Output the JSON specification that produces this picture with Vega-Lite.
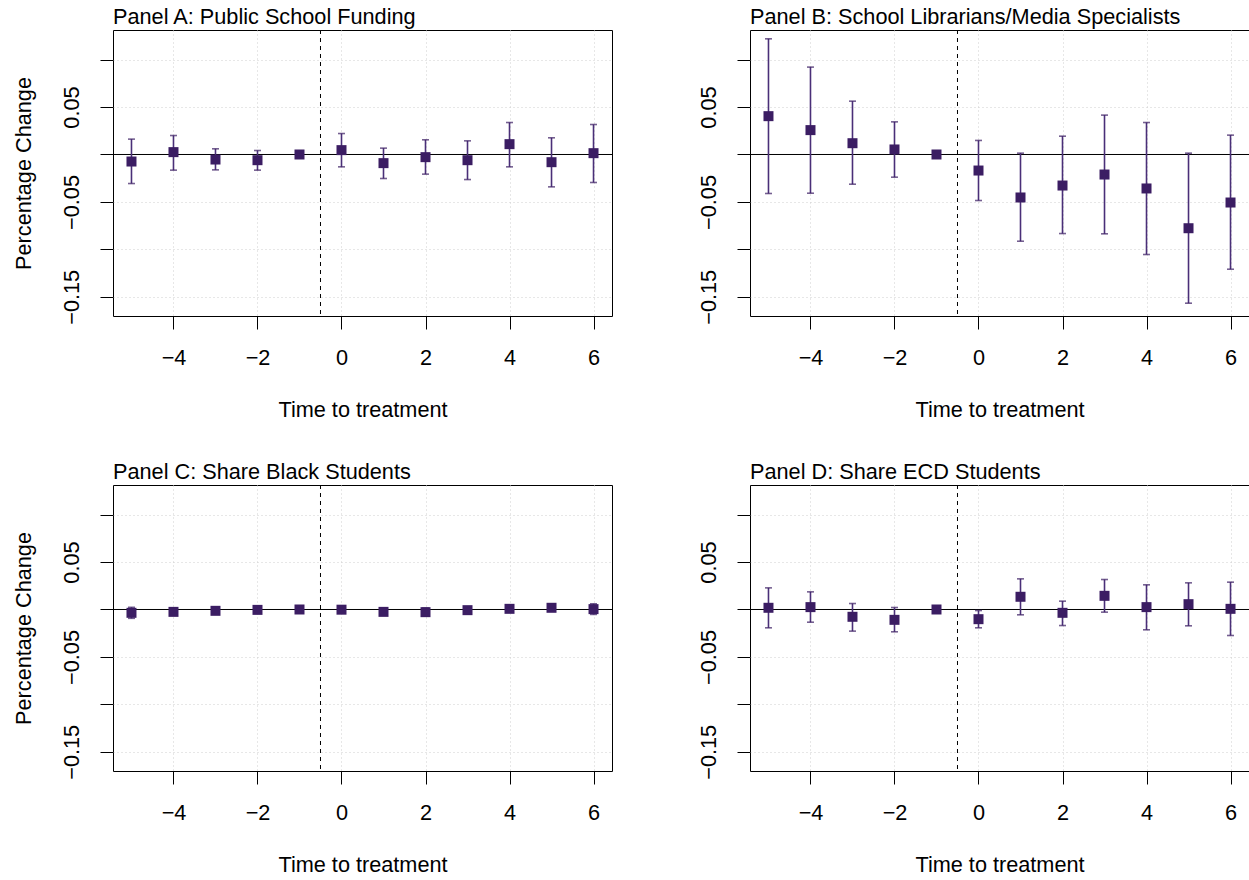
{
  "$schema": "https://vega.github.io/schema/vega-lite/v6.json",
  "padding": {"left": 13, "top": 6, "right": 0, "bottom": 0},
  "background": "white",
  "datasets": {
    "coef": [
      {"panel": "A", "t": -5, "est": -0.0074, "lo": -0.0306, "hi": 0.0162},
      {"panel": "A", "t": -4, "est": 0.0025, "lo": -0.0165, "hi": 0.0200},
      {"panel": "A", "t": -3, "est": -0.0053, "lo": -0.0162, "hi": 0.0060},
      {"panel": "A", "t": -2, "est": -0.0060, "lo": -0.0165, "hi": 0.0042},
      {"panel": "A", "t": -1, "est": 0.0, "lo": 0.0, "hi": 0.0},
      {"panel": "A", "t": 0, "est": 0.0046, "lo": -0.0130, "hi": 0.0221},
      {"panel": "A", "t": 1, "est": -0.0091, "lo": -0.0253, "hi": 0.0067},
      {"panel": "A", "t": 2, "est": -0.0028, "lo": -0.0207, "hi": 0.0155},
      {"panel": "A", "t": 3, "est": -0.0060, "lo": -0.0264, "hi": 0.0144},
      {"panel": "A", "t": 4, "est": 0.0109, "lo": -0.0130, "hi": 0.0337},
      {"panel": "A", "t": 5, "est": -0.0081, "lo": -0.0341, "hi": 0.0176},
      {"panel": "A", "t": 6, "est": 0.0014, "lo": -0.0295, "hi": 0.0316},
      {"panel": "B", "t": -5, "est": 0.0404, "lo": -0.0411, "hi": 0.1219},
      {"panel": "B", "t": -4, "est": 0.0257, "lo": -0.0408, "hi": 0.0921},
      {"panel": "B", "t": -3, "est": 0.0119, "lo": -0.0313, "hi": 0.0562},
      {"panel": "B", "t": -2, "est": 0.0053, "lo": -0.0239, "hi": 0.0344},
      {"panel": "B", "t": -1, "est": 0.0, "lo": 0.0, "hi": 0.0},
      {"panel": "B", "t": 0, "est": -0.0169, "lo": -0.0485, "hi": 0.0148},
      {"panel": "B", "t": 1, "est": -0.0453, "lo": -0.0914, "hi": 0.0014},
      {"panel": "B", "t": 2, "est": -0.0327, "lo": -0.0833, "hi": 0.0193},
      {"panel": "B", "t": 3, "est": -0.0211, "lo": -0.0836, "hi": 0.0415},
      {"panel": "B", "t": 4, "est": -0.0358, "lo": -0.1054, "hi": 0.0337},
      {"panel": "B", "t": 5, "est": -0.0777, "lo": -0.1567, "hi": 0.0014},
      {"panel": "B", "t": 6, "est": -0.0506, "lo": -0.1209, "hi": 0.0204},
      {"panel": "C", "t": -5, "est": -0.0035, "lo": -0.0093, "hi": 0.0023},
      {"panel": "C", "t": -4, "est": -0.0025, "lo": -0.0050, "hi": 0.0000},
      {"panel": "C", "t": -3, "est": -0.0014, "lo": -0.0040, "hi": 0.0012},
      {"panel": "C", "t": -2, "est": -0.0004, "lo": -0.0030, "hi": 0.0022},
      {"panel": "C", "t": -1, "est": 0.0, "lo": 0.0, "hi": 0.0},
      {"panel": "C", "t": 0, "est": -0.0002, "lo": -0.0030, "hi": 0.0026},
      {"panel": "C", "t": 1, "est": -0.0025, "lo": -0.0050, "hi": 0.0000},
      {"panel": "C", "t": 2, "est": -0.0028, "lo": -0.0070, "hi": 0.0014},
      {"panel": "C", "t": 3, "est": -0.0007, "lo": -0.0035, "hi": 0.0021},
      {"panel": "C", "t": 4, "est": 0.0007, "lo": -0.0025, "hi": 0.0039},
      {"panel": "C", "t": 5, "est": 0.0018, "lo": -0.0010, "hi": 0.0046},
      {"panel": "C", "t": 6, "est": 0.0004, "lo": -0.0052, "hi": 0.0060},
      {"panel": "D", "t": -5, "est": 0.0018, "lo": -0.0193, "hi": 0.0228},
      {"panel": "D", "t": -4, "est": 0.0025, "lo": -0.0134, "hi": 0.0186},
      {"panel": "D", "t": -3, "est": -0.0077, "lo": -0.0228, "hi": 0.0063},
      {"panel": "D", "t": -2, "est": -0.0109, "lo": -0.0235, "hi": 0.0021},
      {"panel": "D", "t": -1, "est": 0.0, "lo": 0.0, "hi": 0.0},
      {"panel": "D", "t": 0, "est": -0.0102, "lo": -0.0193, "hi": -0.0011},
      {"panel": "D", "t": 1, "est": 0.0134, "lo": -0.0056, "hi": 0.0323},
      {"panel": "D", "t": 2, "est": -0.0035, "lo": -0.0169, "hi": 0.0088},
      {"panel": "D", "t": 3, "est": 0.0144, "lo": -0.0028, "hi": 0.0316},
      {"panel": "D", "t": 4, "est": 0.0025, "lo": -0.0214, "hi": 0.0260},
      {"panel": "D", "t": 5, "est": 0.0056, "lo": -0.0172, "hi": 0.0281},
      {"panel": "D", "t": 6, "est": 0.0007, "lo": -0.0274, "hi": 0.0288}
    ],
    "blank": [{"zero": 0, "cut": -0.5}]
  },
  "columns": 2,
  "spacing": {"row": 39, "column": 85},
  "concat": [
    {
      "width": 499, "height": 286,
      "title": {"text": "Panel A: Public School Funding"},
      "layer": [
        {"data": {"name": "blank"}, "mark": {"type": "rule", "color": "black", "strokeWidth": 1},
         "encoding": {"y": {"field": "zero", "type": "quantitative", "scale": {"domain": [-0.1702, 0.1312], "nice": false, "zero": false}, "title": "Percentage Change", "axis": {"values": [-0.15, -0.1, -0.05, 0, 0.05, 0.1]}}}},
        {"data": {"name": "blank"}, "mark": {"type": "rule", "color": "black", "strokeWidth": 1, "strokeDash": [4, 4]},
         "encoding": {"x": {"field": "cut", "type": "quantitative", "scale": {"domain": [-5.44, 6.44], "nice": false, "zero": false}, "title": "Time to treatment", "axis": {"values": [-4, -2, 0, 2, 4, 6]}}}},
        {"data": {"name": "coef"}, "transform": [{"filter": "datum.panel == 'A'"}],
         "mark": {"type": "rule", "color": "#4a2f78", "strokeWidth": 1.6},
         "encoding": {"x": {"field": "t", "type": "quantitative", "scale": {"domain": [-5.44, 6.44], "nice": false, "zero": false}, "title": "Time to treatment", "axis": {"values": [-4, -2, 0, 2, 4, 6]}},
           "y": {"field": "lo", "type": "quantitative", "scale": {"domain": [-0.1702, 0.1312], "nice": false, "zero": false}, "title": "Percentage Change", "axis": {"values": [-0.15, -0.1, -0.05, 0, 0.05, 0.1]}},
           "y2": {"field": "hi"}}},
        {"data": {"name": "coef"}, "transform": [{"filter": "datum.panel == 'A'"}],
         "mark": {"type": "tick", "orient": "horizontal", "color": "#3b1d63", "size": 7, "thickness": 1.6},
         "encoding": {"x": {"field": "t", "type": "quantitative", "scale": {"domain": [-5.44, 6.44], "nice": false, "zero": false}, "title": "Time to treatment", "axis": {"values": [-4, -2, 0, 2, 4, 6]}},
           "y": {"field": "lo", "type": "quantitative", "scale": {"domain": [-0.1702, 0.1312], "nice": false, "zero": false}, "title": "Percentage Change", "axis": {"values": [-0.15, -0.1, -0.05, 0, 0.05, 0.1]}}}},
        {"data": {"name": "coef"}, "transform": [{"filter": "datum.panel == 'A'"}],
         "mark": {"type": "tick", "orient": "horizontal", "color": "#3b1d63", "size": 7, "thickness": 1.6},
         "encoding": {"x": {"field": "t", "type": "quantitative", "scale": {"domain": [-5.44, 6.44], "nice": false, "zero": false}, "title": "Time to treatment", "axis": {"values": [-4, -2, 0, 2, 4, 6]}},
           "y": {"field": "hi", "type": "quantitative", "scale": {"domain": [-0.1702, 0.1312], "nice": false, "zero": false}, "title": "Percentage Change", "axis": {"values": [-0.15, -0.1, -0.05, 0, 0.05, 0.1]}}}},
        {"data": {"name": "coef"}, "transform": [{"filter": "datum.panel == 'A'"}],
         "mark": {"type": "point", "shape": "square", "filled": true, "size": 100, "color": "#3b1d63", "opacity": 1},
         "encoding": {"x": {"field": "t", "type": "quantitative", "scale": {"domain": [-5.44, 6.44], "nice": false, "zero": false}, "title": "Time to treatment", "axis": {"values": [-4, -2, 0, 2, 4, 6]}},
           "y": {"field": "est", "type": "quantitative", "scale": {"domain": [-0.1702, 0.1312], "nice": false, "zero": false}, "title": "Percentage Change", "axis": {"values": [-0.15, -0.1, -0.05, 0, 0.05, 0.1]}}}}
      ]
    },
    {
      "width": 499, "height": 286,
      "title": {"text": "Panel B: School Librarians/Media Specialists"},
      "layer": [
        {"data": {"name": "blank"}, "mark": {"type": "rule", "color": "black", "strokeWidth": 1},
         "encoding": {"y": {"field": "zero", "type": "quantitative", "scale": {"domain": [-0.1702, 0.1312], "nice": false, "zero": false}, "title": null, "axis": {"values": [-0.15, -0.1, -0.05, 0, 0.05, 0.1]}}}},
        {"data": {"name": "blank"}, "mark": {"type": "rule", "color": "black", "strokeWidth": 1, "strokeDash": [4, 4]},
         "encoding": {"x": {"field": "cut", "type": "quantitative", "scale": {"domain": [-5.44, 6.44], "nice": false, "zero": false}, "title": "Time to treatment", "axis": {"values": [-4, -2, 0, 2, 4, 6]}}}},
        {"data": {"name": "coef"}, "transform": [{"filter": "datum.panel == 'B'"}],
         "mark": {"type": "rule", "color": "#4a2f78", "strokeWidth": 1.6},
         "encoding": {"x": {"field": "t", "type": "quantitative", "scale": {"domain": [-5.44, 6.44], "nice": false, "zero": false}, "title": "Time to treatment", "axis": {"values": [-4, -2, 0, 2, 4, 6]}},
           "y": {"field": "lo", "type": "quantitative", "scale": {"domain": [-0.1702, 0.1312], "nice": false, "zero": false}, "title": null, "axis": {"values": [-0.15, -0.1, -0.05, 0, 0.05, 0.1]}},
           "y2": {"field": "hi"}}},
        {"data": {"name": "coef"}, "transform": [{"filter": "datum.panel == 'B'"}],
         "mark": {"type": "tick", "orient": "horizontal", "color": "#3b1d63", "size": 7, "thickness": 1.6},
         "encoding": {"x": {"field": "t", "type": "quantitative", "scale": {"domain": [-5.44, 6.44], "nice": false, "zero": false}, "title": "Time to treatment", "axis": {"values": [-4, -2, 0, 2, 4, 6]}},
           "y": {"field": "lo", "type": "quantitative", "scale": {"domain": [-0.1702, 0.1312], "nice": false, "zero": false}, "title": null, "axis": {"values": [-0.15, -0.1, -0.05, 0, 0.05, 0.1]}}}},
        {"data": {"name": "coef"}, "transform": [{"filter": "datum.panel == 'B'"}],
         "mark": {"type": "tick", "orient": "horizontal", "color": "#3b1d63", "size": 7, "thickness": 1.6},
         "encoding": {"x": {"field": "t", "type": "quantitative", "scale": {"domain": [-5.44, 6.44], "nice": false, "zero": false}, "title": "Time to treatment", "axis": {"values": [-4, -2, 0, 2, 4, 6]}},
           "y": {"field": "hi", "type": "quantitative", "scale": {"domain": [-0.1702, 0.1312], "nice": false, "zero": false}, "title": null, "axis": {"values": [-0.15, -0.1, -0.05, 0, 0.05, 0.1]}}}},
        {"data": {"name": "coef"}, "transform": [{"filter": "datum.panel == 'B'"}],
         "mark": {"type": "point", "shape": "square", "filled": true, "size": 100, "color": "#3b1d63", "opacity": 1},
         "encoding": {"x": {"field": "t", "type": "quantitative", "scale": {"domain": [-5.44, 6.44], "nice": false, "zero": false}, "title": "Time to treatment", "axis": {"values": [-4, -2, 0, 2, 4, 6]}},
           "y": {"field": "est", "type": "quantitative", "scale": {"domain": [-0.1702, 0.1312], "nice": false, "zero": false}, "title": null, "axis": {"values": [-0.15, -0.1, -0.05, 0, 0.05, 0.1]}}}}
      ]
    },
    {
      "width": 499, "height": 286,
      "title": {"text": "Panel C: Share Black Students"},
      "layer": [
        {"data": {"name": "blank"}, "mark": {"type": "rule", "color": "black", "strokeWidth": 1},
         "encoding": {"y": {"field": "zero", "type": "quantitative", "scale": {"domain": [-0.1702, 0.1312], "nice": false, "zero": false}, "title": "Percentage Change", "axis": {"values": [-0.15, -0.1, -0.05, 0, 0.05, 0.1]}}}},
        {"data": {"name": "blank"}, "mark": {"type": "rule", "color": "black", "strokeWidth": 1, "strokeDash": [4, 4]},
         "encoding": {"x": {"field": "cut", "type": "quantitative", "scale": {"domain": [-5.44, 6.44], "nice": false, "zero": false}, "title": "Time to treatment", "axis": {"values": [-4, -2, 0, 2, 4, 6]}}}},
        {"data": {"name": "coef"}, "transform": [{"filter": "datum.panel == 'C'"}],
         "mark": {"type": "rule", "color": "#4a2f78", "strokeWidth": 1.6},
         "encoding": {"x": {"field": "t", "type": "quantitative", "scale": {"domain": [-5.44, 6.44], "nice": false, "zero": false}, "title": "Time to treatment", "axis": {"values": [-4, -2, 0, 2, 4, 6]}},
           "y": {"field": "lo", "type": "quantitative", "scale": {"domain": [-0.1702, 0.1312], "nice": false, "zero": false}, "title": "Percentage Change", "axis": {"values": [-0.15, -0.1, -0.05, 0, 0.05, 0.1]}},
           "y2": {"field": "hi"}}},
        {"data": {"name": "coef"}, "transform": [{"filter": "datum.panel == 'C'"}],
         "mark": {"type": "tick", "orient": "horizontal", "color": "#3b1d63", "size": 7, "thickness": 1.6},
         "encoding": {"x": {"field": "t", "type": "quantitative", "scale": {"domain": [-5.44, 6.44], "nice": false, "zero": false}, "title": "Time to treatment", "axis": {"values": [-4, -2, 0, 2, 4, 6]}},
           "y": {"field": "lo", "type": "quantitative", "scale": {"domain": [-0.1702, 0.1312], "nice": false, "zero": false}, "title": "Percentage Change", "axis": {"values": [-0.15, -0.1, -0.05, 0, 0.05, 0.1]}}}},
        {"data": {"name": "coef"}, "transform": [{"filter": "datum.panel == 'C'"}],
         "mark": {"type": "tick", "orient": "horizontal", "color": "#3b1d63", "size": 7, "thickness": 1.6},
         "encoding": {"x": {"field": "t", "type": "quantitative", "scale": {"domain": [-5.44, 6.44], "nice": false, "zero": false}, "title": "Time to treatment", "axis": {"values": [-4, -2, 0, 2, 4, 6]}},
           "y": {"field": "hi", "type": "quantitative", "scale": {"domain": [-0.1702, 0.1312], "nice": false, "zero": false}, "title": "Percentage Change", "axis": {"values": [-0.15, -0.1, -0.05, 0, 0.05, 0.1]}}}},
        {"data": {"name": "coef"}, "transform": [{"filter": "datum.panel == 'C'"}],
         "mark": {"type": "point", "shape": "square", "filled": true, "size": 100, "color": "#3b1d63", "opacity": 1},
         "encoding": {"x": {"field": "t", "type": "quantitative", "scale": {"domain": [-5.44, 6.44], "nice": false, "zero": false}, "title": "Time to treatment", "axis": {"values": [-4, -2, 0, 2, 4, 6]}},
           "y": {"field": "est", "type": "quantitative", "scale": {"domain": [-0.1702, 0.1312], "nice": false, "zero": false}, "title": "Percentage Change", "axis": {"values": [-0.15, -0.1, -0.05, 0, 0.05, 0.1]}}}}
      ]
    },
    {
      "width": 499, "height": 286,
      "title": {"text": "Panel D: Share ECD Students"},
      "layer": [
        {"data": {"name": "blank"}, "mark": {"type": "rule", "color": "black", "strokeWidth": 1},
         "encoding": {"y": {"field": "zero", "type": "quantitative", "scale": {"domain": [-0.1702, 0.1312], "nice": false, "zero": false}, "title": null, "axis": {"values": [-0.15, -0.1, -0.05, 0, 0.05, 0.1]}}}},
        {"data": {"name": "blank"}, "mark": {"type": "rule", "color": "black", "strokeWidth": 1, "strokeDash": [4, 4]},
         "encoding": {"x": {"field": "cut", "type": "quantitative", "scale": {"domain": [-5.44, 6.44], "nice": false, "zero": false}, "title": "Time to treatment", "axis": {"values": [-4, -2, 0, 2, 4, 6]}}}},
        {"data": {"name": "coef"}, "transform": [{"filter": "datum.panel == 'D'"}],
         "mark": {"type": "rule", "color": "#4a2f78", "strokeWidth": 1.6},
         "encoding": {"x": {"field": "t", "type": "quantitative", "scale": {"domain": [-5.44, 6.44], "nice": false, "zero": false}, "title": "Time to treatment", "axis": {"values": [-4, -2, 0, 2, 4, 6]}},
           "y": {"field": "lo", "type": "quantitative", "scale": {"domain": [-0.1702, 0.1312], "nice": false, "zero": false}, "title": null, "axis": {"values": [-0.15, -0.1, -0.05, 0, 0.05, 0.1]}},
           "y2": {"field": "hi"}}},
        {"data": {"name": "coef"}, "transform": [{"filter": "datum.panel == 'D'"}],
         "mark": {"type": "tick", "orient": "horizontal", "color": "#3b1d63", "size": 7, "thickness": 1.6},
         "encoding": {"x": {"field": "t", "type": "quantitative", "scale": {"domain": [-5.44, 6.44], "nice": false, "zero": false}, "title": "Time to treatment", "axis": {"values": [-4, -2, 0, 2, 4, 6]}},
           "y": {"field": "lo", "type": "quantitative", "scale": {"domain": [-0.1702, 0.1312], "nice": false, "zero": false}, "title": null, "axis": {"values": [-0.15, -0.1, -0.05, 0, 0.05, 0.1]}}}},
        {"data": {"name": "coef"}, "transform": [{"filter": "datum.panel == 'D'"}],
         "mark": {"type": "tick", "orient": "horizontal", "color": "#3b1d63", "size": 7, "thickness": 1.6},
         "encoding": {"x": {"field": "t", "type": "quantitative", "scale": {"domain": [-5.44, 6.44], "nice": false, "zero": false}, "title": "Time to treatment", "axis": {"values": [-4, -2, 0, 2, 4, 6]}},
           "y": {"field": "hi", "type": "quantitative", "scale": {"domain": [-0.1702, 0.1312], "nice": false, "zero": false}, "title": null, "axis": {"values": [-0.15, -0.1, -0.05, 0, 0.05, 0.1]}}}},
        {"data": {"name": "coef"}, "transform": [{"filter": "datum.panel == 'D'"}],
         "mark": {"type": "point", "shape": "square", "filled": true, "size": 100, "color": "#3b1d63", "opacity": 1},
         "encoding": {"x": {"field": "t", "type": "quantitative", "scale": {"domain": [-5.44, 6.44], "nice": false, "zero": false}, "title": "Time to treatment", "axis": {"values": [-4, -2, 0, 2, 4, 6]}},
           "y": {"field": "est", "type": "quantitative", "scale": {"domain": [-0.1702, 0.1312], "nice": false, "zero": false}, "title": null, "axis": {"values": [-0.15, -0.1, -0.05, 0, 0.05, 0.1]}}}}
      ]
    }
  ],
  "config": {
    "font": "Liberation Sans",
    "view": {"stroke": "black", "strokeWidth": 1},
    "axis": {
      "domain": false,
      "ticks": true,
      "grid": true,
      "tickColor": "black",
      "tickSize": 13,
      "tickWidth": 1,
      "labelFont": "Liberation Sans",
      "labelFontSize": 21.7,
      "labelColor": "black",
      "labelOverlap": false,
      "labelFlush": false,
      "titleFont": "Liberation Sans",
      "titleFontSize": 21.7,
      "titleFontWeight": "normal",
      "titleColor": "black",
      "gridColor": "#cfcfcf",
      "gridDash": [1, 3],
      "gridWidth": 1
    },
    "axisX": {
      "labelPadding": 18,
      "titlePadding": 31,
      "labelExpr": "replace(datum.label, '-', '\u2212')"
    },
    "axisY": {
      "labelAngle": -90,
      "labelAlign": "center",
      "labelBaseline": "alphabetic",
      "labelPadding": 21.5,
      "titlePadding": 26,
      "labelExpr": "(abs(datum.value-0.05)<1e-6 || abs(datum.value+0.05)<1e-6 || abs(datum.value+0.15)<1e-6) ? replace(format(datum.value, '.2f'), '-', '\u2212') : ''"
    },
    "title": {
      "anchor": "start",
      "frame": "group",
      "font": "Liberation Sans",
      "fontSize": 21.7,
      "fontWeight": "normal",
      "color": "black",
      "baseline": "alphabetic",
      "offset": 1
    }
  }
}
